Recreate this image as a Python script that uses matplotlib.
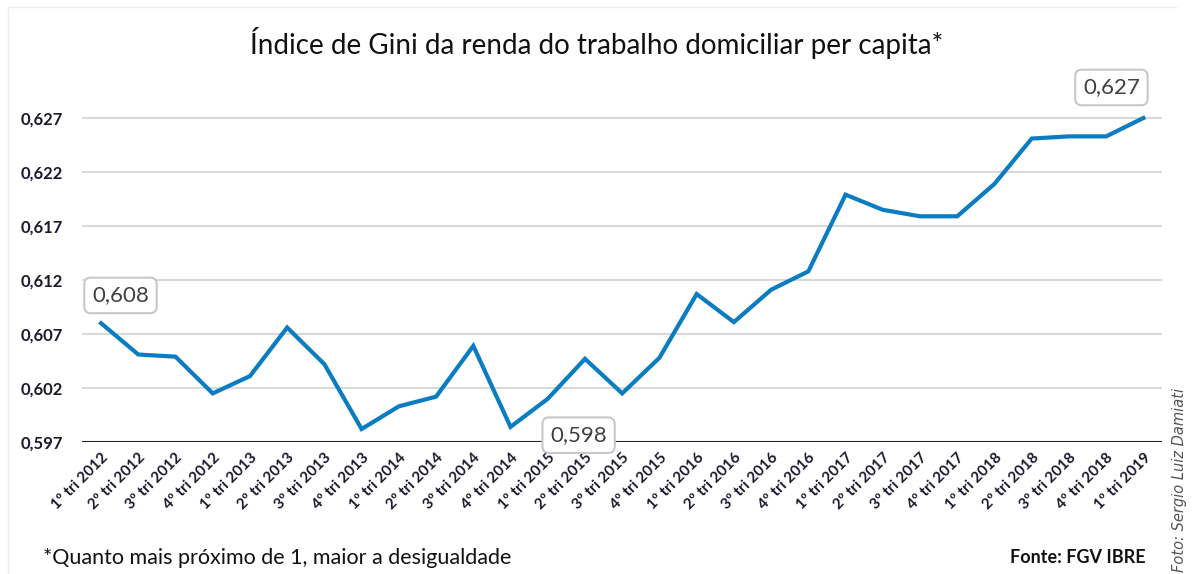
import numpy as np
import matplotlib.pyplot as plt
from matplotlib.lines import Line2D

# Quarters from 1st quarter 2012 to 1st quarter 2019
quarters = []
for year in range(2012, 2019):
    for q in range(1, 5):
        quarters.append(f"{q}º tri {year}")
quarters.append("1º tri 2019")

# Gini index values
gini = [0.6080, 0.6051, 0.6049, 0.6015, 0.6031, 0.6076, 0.6042, 0.5982,
        0.6003, 0.6012, 0.6059, 0.5984, 0.6010, 0.6047, 0.6015, 0.6048,
        0.6107, 0.6081, 0.6111, 0.6128, 0.6199, 0.6185, 0.6179, 0.6179,
        0.6209, 0.6251, 0.6253, 0.6253, 0.6270]

y_ticks = [0.597, 0.602, 0.607, 0.612, 0.617, 0.622, 0.627]

# Labelled points: (index, text, x offset, y offset) in points
callouts = [(0, "0,608", 14, 20), (11, "0,598", 49, -6), (28, "0,627", -23, 22)]

plt.rcParams['font.family'] = ['Lato', 'DejaVu Sans']

fig = plt.figure(figsize=(11.93, 5.74), dpi=100)
ax = fig.add_axes([0.0691, 0.230, 0.9049, 0.602])

x = np.arange(len(quarters))
ax.plot(x, gini, color='#0a7cc1', lw=3, solid_joinstyle='miter', zorder=3, clip_on=False)

ax.set_xlim(-0.5, len(quarters) - 0.5)
ax.set_ylim(0.597, 0.629)
ax.set_yticks(y_ticks)
ax.set_yticklabels([f"{v:.3f}".replace('.', ',') for v in y_ticks],
                   fontsize=12, fontweight='bold', color='#1a1a2e')
ax.set_xticks(x)
ax.set_xticklabels(quarters, rotation=45, ha='right', rotation_mode='anchor',
                   fontsize=11, fontweight='bold', color='#1a1a2e')
ax.tick_params(axis='y', length=0, pad=14)
ax.tick_params(axis='x', length=0, pad=6)

for v in y_ticks[1:]:
    ax.axhline(v, color='#d9d9d9', lw=1.5, zorder=1)
ax.axhline(0.597, color='#222222', lw=1.5, zorder=2)
for s in ax.spines.values():
    s.set_visible(False)

for i, txt, dx, dy in callouts:
    ax.annotate(txt, (x[i], gini[i]), xytext=(dx, dy), textcoords='offset points',
                ha='center', va='center', fontsize=16, color='#404040', zorder=5,
                bbox=dict(boxstyle='round,pad=0.35,rounding_size=0.3',
                          fc='white', ec='#c8c8c8', lw=1.5))

fig.text(0.5, 0.925, "Índice de Gini da renda do trabalho domiciliar per capita*",
         ha='center', va='center', fontsize=20, color='#111111')
fig.text(0.036, 0.028, "*Quanto mais próximo de 1, maior a desigualdade",
         ha='left', va='center', fontsize=15.5, color='#111111')
fig.text(0.96, 0.028, "Fonte: FGV IBRE", ha='right', va='center',
         fontsize=13, fontweight='bold', color='#111111')
fig.text(0.989, 0.004, "Foto: Sergio Luiz Damiati", rotation=90, ha='center', va='bottom',
         fontsize=10.5, style='italic', color='#555555', family='DejaVu Sans')

# faint frame around the graphic
fig.add_artist(Line2D([0.007, 0.986], [0.988, 0.988], color='#eeeeee', lw=1))
fig.add_artist(Line2D([0.007, 0.007], [0.0, 0.988], color='#eeeeee', lw=1))

fig.savefig('out.png', dpi=100)
